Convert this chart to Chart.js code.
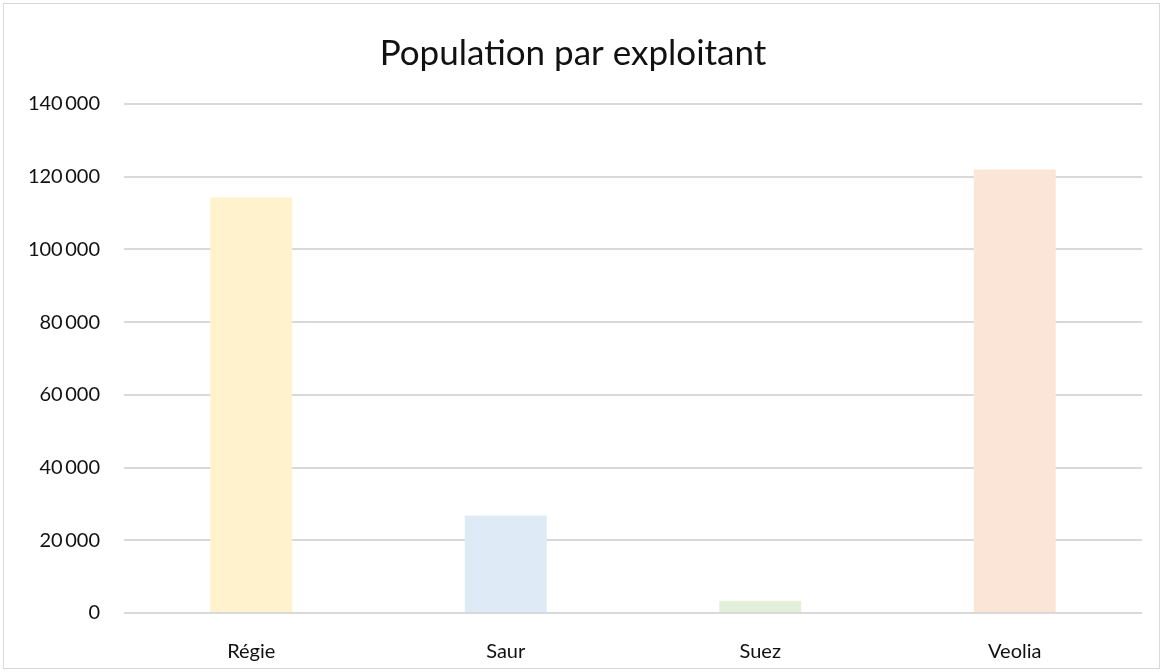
<!DOCTYPE html>
<html>
<head>
<meta charset="utf-8">
<script src="https://cdn.jsdelivr.net/npm/chart.js@4/dist/chart.umd.min.js"></script>
<style>
  html,body{margin:0;padding:0;background:#fff;}
  #box{position:absolute;left:3px;top:3px;width:1157px;height:666px;box-sizing:border-box;border:1px solid #d9d9d9;}
  #box canvas{display:block;}
</style>
</head>
<body>
<div id="box"><canvas id="c"></canvas></div>
<script>
/* ---------- data ---------- */
const titleText='Population par exploitant';
const categories=['Régie','Saur','Suez','Veolia'];
const population=[114300,26800,3400,122000];
const barColors=['#fff2cc','#deebf7','#e2f0d9','#fbe5d6'];
const yMax=140000, yStep=20000;

/* ---------- helpers ---------- */
const fmt=v=>String(v).replace(/\B(?=(\d{3})+(?!\d))/g,'\u2009');
const FONT='Lato, "Noto Sans", sans-serif';

const ctx=document.getElementById('c');
ctx.width=1155; ctx.height=664;

new Chart(ctx,{
  type:'bar',
  data:{labels:categories,datasets:[{data:population,backgroundColor:barColors,
    barPercentage:0.322,categoryPercentage:1,borderWidth:0}]},
  options:{
    responsive:false,animation:false,
    layout:{padding:{left:0,right:17,top:0,bottom:0}},
    plugins:{
      legend:{display:false},tooltip:{enabled:false},
      title:{display:true,text:titleText,color:'#111',
        font:{family:FONT,size:35,weight:'normal'},padding:{top:29,bottom:29}}
    },
    scales:{
      x:{
        grid:{display:false},border:{display:false},
        ticks:{color:'#111',font:{family:FONT,size:20},padding:19},
        afterFit:s=>{s.height=55;}
      },
      y:{
        min:0,max:yMax,
        grid:{color:'#d9d9d9',lineWidth:2,drawTicks:false},border:{display:false},
        ticks:{stepSize:yStep,color:'#111',font:{family:FONT,size:20},padding:24,callback:v=>fmt(v)},
        afterFit:s=>{s.width=120;}
      }
    }
  }
});
</script>
</body>
</html>
